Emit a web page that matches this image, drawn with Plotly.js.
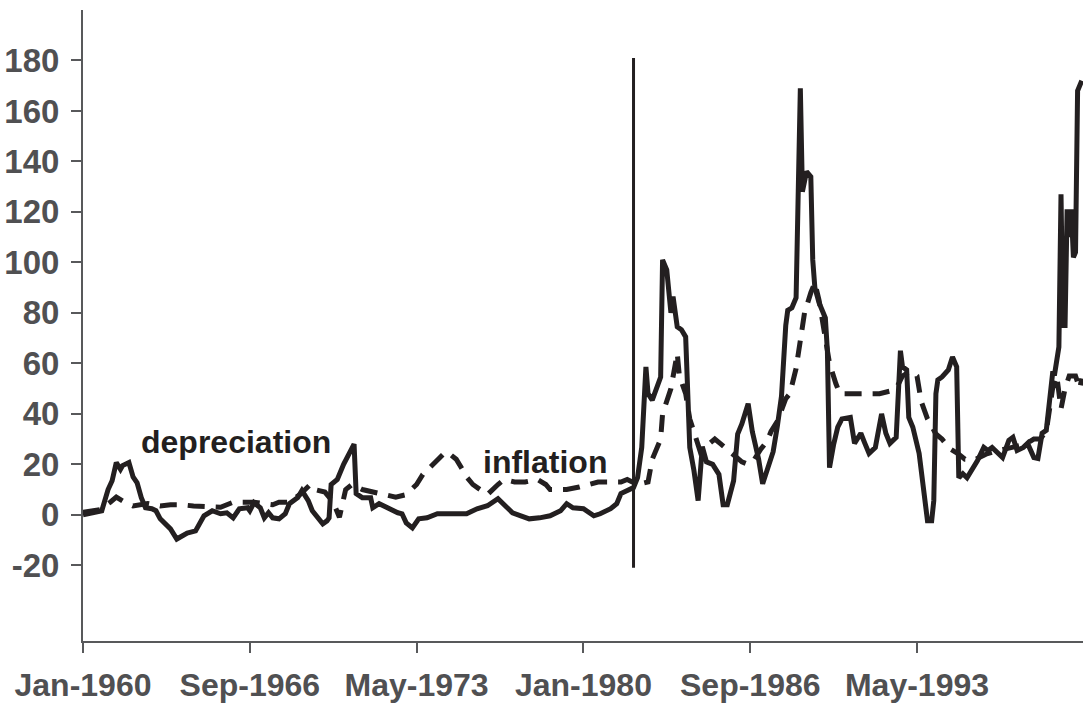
<!DOCTYPE html>
<html>
<head>
<meta charset="utf-8">
<script src="https://cdn.plot.ly/plotly-3.0.1.min.js"></script>
<style>
  html, body { margin: 0; padding: 0; background: #ffffff; }
  #chart { width: 1089px; height: 705px; }
</style>
</head>
<body>
<div id="chart"></div>
<script>
// Depreciation (solid line) — monthly dates and values
const depDates = [
  "1960-01","1960-05","1960-10","1961-01","1961-03","1961-05","1961-07","1961-08","1961-11","1962-01",
  "1962-03","1962-05","1962-07","1962-10","1962-12","1963-02","1963-04","1963-07","1963-10","1964-01",
  "1964-03","1964-07","1964-09","1964-11","1965-03","1965-07","1965-10","1966-01","1966-04","1966-08",
  "1966-09","1966-11","1967-02","1967-04","1967-06","1967-08","1967-11","1968-02","1968-04","1968-08",
  "1968-10","1969-01","1969-03","1969-06","1969-08","1969-10","1969-11","1969-12","1970-03","1970-06",
  "1970-09","1970-11","1970-12","1971-03","1971-07","1971-08","1971-11","1972-03","1972-05","1972-08",
  "1972-10","1972-12","1973-03","1973-06","1973-10","1974-03","1974-10","1975-05","1975-10","1976-03",
  "1976-08","1976-10","1976-12","1977-03","1977-07","1977-11","1978-04","1978-09","1979-02","1979-05",
  "1979-08","1980-01","1980-06","1980-09","1981-02","1981-05","1981-07","1982-01","1982-03","1982-05",
  "1982-07","1982-08","1982-10","1982-12","1983-02","1983-03","1983-05","1983-07","1983-08","1983-10",
  "1983-12","1984-02","1984-03","1984-04","1984-06","1984-08","1984-10","1984-12","1985-03","1985-06",
  "1985-08","1985-10","1986-01","1986-03","1986-05","1986-08","1986-10","1987-01","1987-03","1987-05",
  "1987-08","1987-10","1987-12","1988-02","1988-03","1988-05","1988-07","1988-09","1988-10","1988-12",
  "1989-02","1989-03","1989-04","1989-06","1989-09","1989-10","1989-11","1990-01","1990-03","1990-05",
  "1990-09","1990-11","1991-02","1991-04","1991-06","1991-09","1991-12","1992-02","1992-04","1992-07",
  "1992-09","1992-10","1992-12","1993-01","1993-03","1993-06","1993-09","1993-10","1993-12","1994-01",
  "1994-02","1994-03","1994-05","1994-08","1994-10","1994-12","1995-01","1995-03","1995-05","1995-07",
  "1995-10","1996-01","1996-03","1996-05","1996-08","1996-10","1997-01","1997-03","1997-05","1997-08",
  "1997-10","1998-01","1998-03","1998-05","1998-07","1998-10","1998-11","1999-01","1999-02","1999-03",
  "1999-04","1999-05","1999-06","1999-07","1999-08","1999-09","1999-10","1999-12"
];
const depValues = [
  0, 0.5, 1.6, 10, 13.5, 20.7, 18, 19.5, 20.7, 15,
  12.7, 6.8, 2.8, 2.4, 1.6, -1.6, -3.2, -5.6, -9.6, -8.4,
  -7.2, -6.4, -3.2, -0.4, 1.6, 0.4, 0.8, -1.2, 2.4, 2.8,
  1.6, 4.8, 2.8, -1.2, 0.8, -1.2, -1.6, 0.4, 4.4, 6.8,
  9.6, 5.6, 1.6, -1.6, -3.6, -2.4, -1.2, 12, 14, 20,
  25.5, 28, 8.4, 6.8, 6.8, 2.8, 4.4, 2.8, 1.6, 0.8,
  0.4, -3.2, -5.2, -1.6, -1.2, 0.4, 0.4, 0.4, 2.4, 3.6,
  6.4, 4.8, 2.8, 0.8, -0.4, -1.6, -1.2, -0.4, 1.6, 4.4,
  2.8, 2.4, -0.4, 0.4, 2.4, 4.4, 8.4, 10.8, 14.7, 26.7,
  58.6, 48, 45.4, 50.6, 54.6, 101, 97, 80, 86.5, 74.5,
  73.3, 70.5, 46.6, 26.7, 17.5, 5.6, 27, 21, 20, 16,
  4, 4, 13.5, 32, 36, 44, 33, 22, 12.3, 17,
  25, 35, 47, 75, 81, 82, 86, 169, 128, 136,
  134, 101, 90, 84, 78, 65, 18.7, 28, 34.7, 38,
  38.6, 28.3, 32.3, 28.3, 24.3, 26.7, 40, 32.3, 28.3, 30.7,
  65, 58.6, 57.4, 38.6, 34.7, 24.3, 5.6, -2.4, -2.4, 5.6,
  48, 53.4, 54.6, 57.4, 62.5, 58.6, 14.7, 16.3, 14.7, 17.5,
  21.5, 26.7, 25.5, 26.7, 24.3, 22.7, 29.5, 30.7, 25.5, 26.7,
  28.3, 22.7, 22.3, 32.3, 33.5, 56, 56, 66.5, 127, 75,
  75, 121, 110, 121, 102, 104, 168, 172
];

// Inflation (dashed line)
const infDates = [
  "1960-01","1960-09","1961-02","1961-05","1961-09","1962-01","1962-08","1963-02","1963-07","1963-12",
  "1964-06","1965-02","1965-07","1966-01","1966-06","1966-11","1967-03","1967-08","1967-11","1968-04",
  "1968-09","1969-02","1969-04","1969-09","1970-01","1970-04","1970-07","1970-10","1971-03","1971-08",
  "1972-01","1972-07","1972-12","1973-05","1973-08","1974-01","1974-03","1974-07","1974-09","1974-12",
  "1975-03","1975-05","1975-08","1975-11","1976-03","1976-08","1976-11","1977-04","1977-09","1978-03",
  "1978-07","1978-09","1979-02","1979-05","1979-11","1980-04","1980-08","1980-12","1981-07","1981-10",
  "1982-03","1982-08","1982-10","1983-02","1983-03","1983-07","1983-10","1983-11","1984-02","1984-04",
  "1984-07","1984-09","1985-01","1985-04","1985-07","1985-10","1986-02","1986-05","1986-08","1986-11",
  "1987-02","1987-05","1987-07","1987-10","1988-02","1988-04","1988-07","1988-09","1988-11","1989-02",
  "1989-04","1989-06","1989-09","1989-11","1990-02","1990-04","1990-09","1991-02","1991-06","1991-11",
  "1992-04","1992-07","1992-10","1993-02","1993-05","1993-07","1993-10","1994-02","1994-05","1994-09",
  "1995-01","1995-04","1995-09","1996-02","1996-06","1996-11","1997-04","1997-09","1998-01","1998-04",
  "1998-07","1998-10","1998-12","1999-02","1999-04","1999-06","1999-09","1999-11","1999-12"
];
const infValues = [
  1, 2, 5, 7, 5, 3.5, 4.5, 3.5, 4, 4,
  3.5, 3, 3, 5, 5, 5, 4.5, 4, 5, 5,
  8, 12, 10, 9, 5, -1, 10, 12, 10, 9,
  8, 7, 8, 12, 16, 20, 22, 25, 24, 22,
  18, 15, 12, 10, 8, 12, 14, 13, 13, 14,
  12, 10, 10, 10, 11, 12, 13, 13, 13, 14,
  12, 13, 22, 30, 40, 50, 64, 55, 48, 38,
  30, 25, 28, 30, 28, 26, 23, 21, 20, 22,
  26, 29, 33, 37, 46, 48, 58, 69, 80, 88,
  92, 85, 70, 60, 52, 48, 48, 48, 48, 48,
  49, 50, 55, 57, 55, 45, 38, 32, 30, 26,
  24, 22, 22, 24, 25, 26, 27, 28, 30, 30,
  33, 50, 55, 42, 50, 55, 55, 50, 54
];

// Axis ticks
const xTickVals = ["1960-01-01","1966-09-01","1973-05-01","1980-01-01","1986-09-01","1993-05-01"];
const xTickText = ["Jan-1960","Sep-1966","May-1973","Jan-1980","Sep-1986","May-1993"];
const yTickVals = [-20, 0, 20, 40, 60, 80, 100, 120, 140, 160, 180];
const yTickText = ["-20", "0", "20", "40", "60", "80", "100", "120", "140", "160", "180"];

// Reference line and labels
const breakDate = "1982-01-01";
const breakRange = [-21, 181];
const labels = [
  {text: "depreciation", x: "1966-02-15", y: 29},
  {text: "inflation", x: "1978-06-15", y: 21}
];

const ink = "#231f20";
const axisGrey = "#58595b";
const tickGrey = "#505052";
const fontFamily = "Liberation Sans, Arial, Helvetica, sans-serif";

const traces = [
  {
    x: infDates, y: infValues, type: "scatter", mode: "lines",
    line: {color: ink, width: 5, dash: "17px,11px"},
    hoverinfo: "skip"
  },
  {
    x: depDates, y: depValues, type: "scatter", mode: "lines",
    line: {color: ink, width: 5},
    hoverinfo: "skip"
  }
];

const layout = {
  width: 1089, height: 705,
  margin: {l: 83, r: 6, t: 10, b: 64, pad: 0},
  paper_bgcolor: "#ffffff", plot_bgcolor: "#ffffff",
  showlegend: false,
  font: {family: fontFamily},
  xaxis: {
    type: "date",
    range: ["1960-01-01", "1999-12-19"],
    tickvals: xTickVals, ticktext: xTickText,
    showgrid: false, zeroline: false,
    showline: true, linecolor: axisGrey, linewidth: 2,
    ticks: "outside", ticklen: 10, tickwidth: 2, tickcolor: axisGrey,
    tickfont: {family: fontFamily, size: 32, color: tickGrey, weight: "bold"},
    ticklabelstandoff: 5,
    fixedrange: true
  },
  yaxis: {
    range: [-50, 200],
    tickvals: yTickVals, ticktext: yTickText,
    showgrid: false, zeroline: false,
    showline: true, linecolor: axisGrey, linewidth: 2,
    ticks: "outside", ticklen: 10, tickwidth: 2, tickcolor: axisGrey,
    tickfont: {family: fontFamily, size: 33, color: tickGrey, weight: "bold"},
    ticklabelstandoff: 5,
    fixedrange: true
  },
  shapes: [{
    type: "line", xref: "x", yref: "y",
    x0: breakDate, x1: breakDate, y0: breakRange[0], y1: breakRange[1],
    line: {color: ink, width: 3}
  }],
  annotations: labels.map(l => ({
    text: l.text, x: l.x, y: l.y, xref: "x", yref: "y",
    showarrow: false, xanchor: "center", yanchor: "middle",
    font: {family: fontFamily, size: 32, color: ink, weight: "bold"}
  }))
};

Plotly.newPlot("chart", traces, layout, {displayModeBar: false, staticPlot: true});
</script>
</body>
</html>
